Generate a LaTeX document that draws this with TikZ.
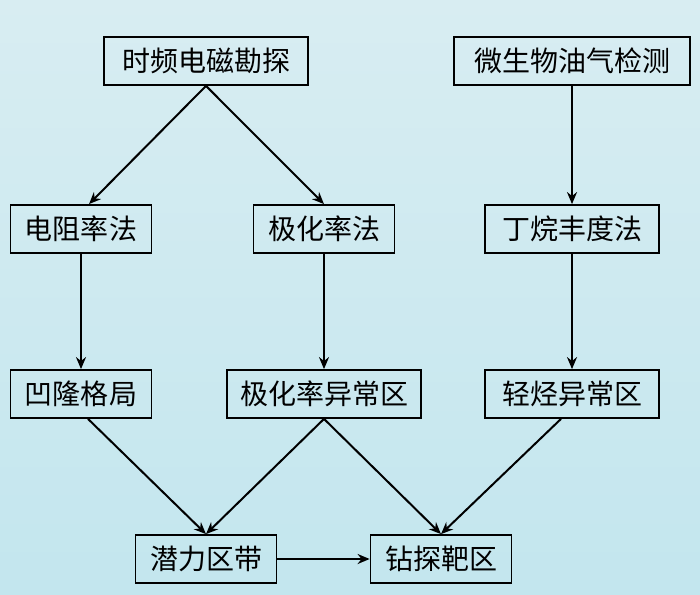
\documentclass[tikz,border=0pt]{standalone}
\usepackage{fontspec}
\newfontfamily\cjk{Noto Sans CJK SC}
\usepackage{tikz}
\usetikzlibrary{arrows.meta,positioning}
\definecolor{bgtop}{RGB}{216,237,242}
\definecolor{bgbottom}{RGB}{195,230,238}
\tikzstyle{arrow} = [line width=2pt,-{Stealth[length=12pt,width=10pt]},color=black]
\tikzstyle{method} = [rectangle, minimum width=141pt, minimum height=48pt, text centered, draw=black, line width=1.8pt, inner sep=0pt, font=\cjk\fontsize{28}{34}\selectfont]

\begin{document}
\begin{tikzpicture}
% Background
\shade[top color=bgtop, bottom color=bgbottom] (-81pt,-365pt) rectangle (619pt,229pt);
\useasboundingbox (-81pt,-365pt) rectangle (619pt,229pt);

% Methods
\node (dianzu) [method] {电阻率法};
\node (jihua) [method, right of=dianzu, node distance=243pt] {极化率法};
\node (dingwan) [method, right of=jihua, node distance=248pt, minimum width=174pt] {丁烷丰度法};
\node (weisheng) [method, above of=dingwan, node distance=168pt, minimum width=236pt] {微生物油气检测};
\node (shipin) [method, left of=weisheng, node distance=366pt, minimum width=204pt] {时频电磁勘探};

% Results
\node (aolong) [method, below of=dianzu, node distance=165pt] {凹隆格局};
\node (jihuayc) [method, below of=jihua, node distance=165pt, minimum width=194pt] {极化率异常区};
\node (qingting) [method, below of=dingwan, node distance=165pt, minimum width=174pt] {轻烃异常区};
\node (qianli) [method, below of=shipin, node distance=498pt] {潜力区带};
\node (zuantan) [method, right of=qianli, node distance=235pt] {钻探靶区};

% Flow
\draw[arrow] (shipin.south) -- ([xshift=8pt]dianzu.north);
\draw[arrow] (shipin.south) -- (jihua.north);
\draw[arrow] (weisheng.south) -- (dingwan.north);
\draw[arrow] (dianzu.south) -- (aolong.north);
\draw[arrow] (jihua.south) -- (jihuayc.north);
\draw[arrow] (dingwan.south) -- (qingting.north);
\draw[arrow] ([xshift=7pt]aolong.south) -- (qianli.north);
\draw[arrow] (jihuayc.south) -- (qianli.north);
\draw[arrow] (jihuayc.south) -- (zuantan.north);
\draw[arrow] ([xshift=-11pt]qingting.south) -- (zuantan.north);
\draw[arrow] (qianli) -- (zuantan);
\end{tikzpicture}
\end{document}
